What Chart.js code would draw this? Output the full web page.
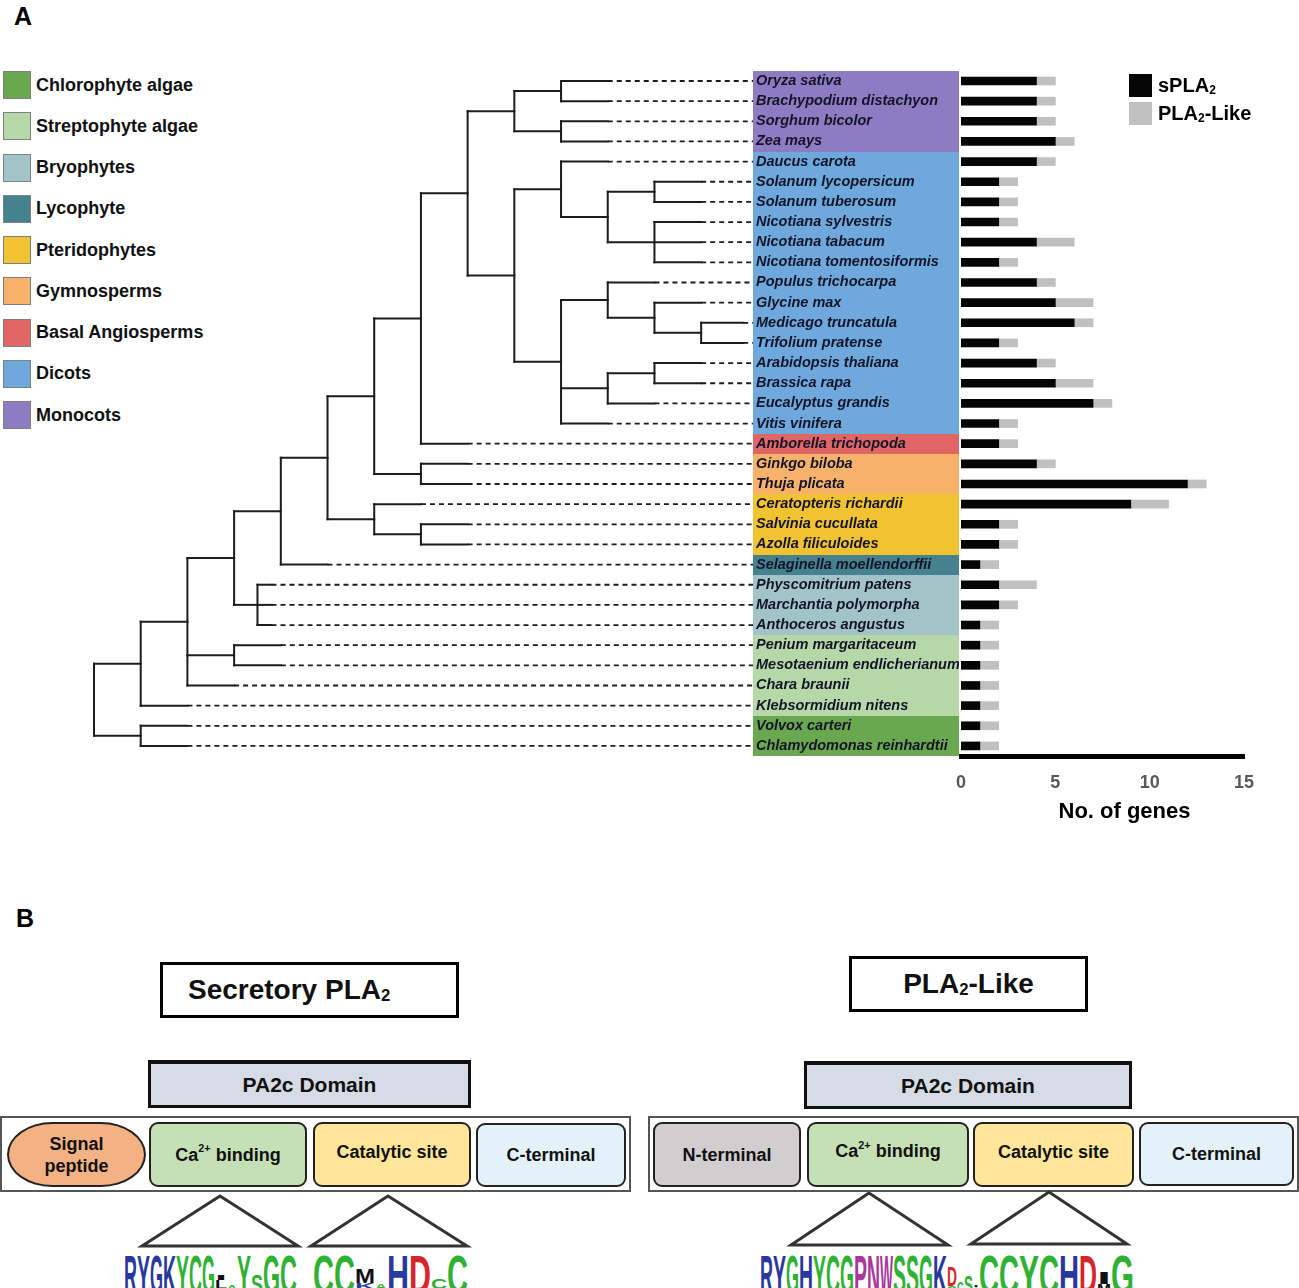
<!DOCTYPE html>
<html>
<head>
<meta charset="utf-8">
<title>sPLA2 / PLA2-Like</title>
<script src="https://cdn.jsdelivr.net/npm/chart.js@4.4.1/dist/chart.umd.min.js"></script>
<style>
  body { margin: 0; background: #fff; font-family: Arial, "Liberation Sans", sans-serif; color: #111; }
  #page { position: relative; width: 1299px; height: 1288px; overflow: hidden; }
  .abs { position: absolute; }
  .panel { font-weight: bold; font-size: 25px; color: #000; }
  #treeBox { left: 0; top: 0; width: 959px; height: 770px; }
  #barBox { left: 940px; top: 0; width: 359px; height: 826px; }
  .grp { position: absolute; left: 3px; height: 28px; display: flex; align-items: center;
         font-weight: bold; font-size: 18px; color: #111; white-space: nowrap; }
  .grp i { display: inline-block; width: 26px; height: 26px; border: 1px solid #808080; margin-right: 5px; }
  .key { position: absolute; left: 1129px; display: flex; align-items: center; font-weight: bold; font-size: 20px; color: #000; }
  .key i { display: inline-block; width: 23px; height: 23px; margin-right: 6px; }
  sub { font-size: 60%; line-height: 0; vertical-align: baseline; position: relative; top: 0.35em; }
  sup { font-size: 60%; line-height: 0; vertical-align: baseline; position: relative; top: -0.6em; }
  .tbox { border: 3px solid #000; font-weight: bold; font-size: 28px; display: flex; align-items: center; box-sizing: border-box; }
  .pa2c { background: #d6dce5; border: 3px solid #111; border-top-width: 4px; font-weight: bold; font-size: 21px;
          display: flex; align-items: center; justify-content: center; box-sizing: border-box; }
  .cont { border: 2px solid #555; box-sizing: border-box; }
  .dom { border: 2px solid #222; border-radius: 9px; display: flex; align-items: center; justify-content: center;
         text-align: center; font-weight: bold; font-size: 18px; line-height: 22px; box-sizing: border-box; color: #111; }
</style>
</head>
<body>
<div id="page">
  <div class="abs panel" style="left:14px;top:2px">A</div>
  <div id="groupLegend"></div>
  <div class="abs" id="treeBox"><canvas id="treeChart"></canvas></div>
  <div class="abs" id="barBox"><canvas id="barChart"></canvas></div>
  <div class="key" style="top:74px"><i style="background:#050505"></i>sPLA<sub>2</sub></div>
  <div class="key" style="top:102px"><i style="background:#c0c0c0"></i>PLA<sub>2</sub>-Like</div>

  <div class="abs panel" style="left:16px;top:904px">B</div>
  <div class="abs tbox" style="left:160px;top:962px;width:299px;height:56px;padding-left:25px">Secretory PLA<sub>2</sub></div>
  <div class="abs tbox" style="left:849px;top:956px;width:239px;height:56px;justify-content:center">PLA<sub>2</sub>-Like</div>
  <div class="abs pa2c" style="left:148px;top:1060px;width:323px;height:48px">PA2c Domain</div>
  <div class="abs pa2c" style="left:804px;top:1061px;width:328px;height:48px">PA2c Domain</div>

  <div class="abs cont" style="left:0;top:1116px;width:631px;height:76px"></div>
  <div class="abs dom" style="left:7px;top:1122px;width:139px;height:65px;background:#f4b183;border-radius:46px/33px">Signal<br>peptide</div>
  <div class="abs dom" style="left:149px;top:1122px;width:158px;height:65px;background:#c5e0b4">Ca<sup>2+</sup>&nbsp;binding</div>
  <div class="abs dom" style="left:313px;top:1122px;width:158px;height:65px;background:#ffe699;padding-bottom:6px">Catalytic site</div>
  <div class="abs dom" style="left:476px;top:1123px;width:150px;height:64px;background:#e3f2f8">C-terminal</div>

  <div class="abs cont" style="left:648px;top:1116px;width:651px;height:76px"></div>
  <div class="abs dom" style="left:653px;top:1122px;width:148px;height:65px;background:#d0cece">N-terminal</div>
  <div class="abs dom" style="left:807px;top:1122px;width:162px;height:65px;background:#c5e0b4;padding-bottom:7px">Ca<sup>2+</sup>&nbsp;binding</div>
  <div class="abs dom" style="left:973px;top:1122px;width:161px;height:65px;background:#ffe699;padding-bottom:6px">Catalytic site</div>
  <div class="abs dom" style="left:1139px;top:1122px;width:155px;height:64px;background:#e3f2f8">C-terminal</div>

  <svg class="abs" id="motifs" style="left:0;top:1180px" width="1299" height="108"></svg>
</div>

<script>
// species in tree order (top to bottom)
const species = [
  "Oryza sativa", "Brachypodium distachyon", "Sorghum bicolor", "Zea mays",
  "Daucus carota", "Solanum lycopersicum", "Solanum tuberosum", "Nicotiana sylvestris",
  "Nicotiana tabacum", "Nicotiana tomentosiformis", "Populus trichocarpa", "Glycine max",
  "Medicago truncatula", "Trifolium pratense", "Arabidopsis thaliana", "Brassica rapa",
  "Eucalyptus grandis", "Vitis vinifera", "Amborella trichopoda", "Ginkgo biloba",
  "Thuja plicata", "Ceratopteris richardii", "Salvinia cucullata", "Azolla filiculoides",
  "Selaginella moellendorffii", "Physcomitrium patens", "Marchantia polymorpha", "Anthoceros angustus",
  "Penium margaritaceum", "Mesotaenium endlicherianum", "Chara braunii", "Klebsormidium nitens",
  "Volvox carteri", "Chlamydomonas reinhardtii"
];

// number of genes
const sPLA2 =    [4, 4, 4, 5, 4, 2, 2, 2, 4, 2, 4, 5, 6, 2, 4, 5, 7, 2, 2, 4, 12, 9, 2, 2, 1, 2, 2, 1, 1, 1, 1, 1, 1, 1];
const pla2Like = [1, 1, 1, 1, 1, 1, 1, 1, 2, 1, 1, 2, 1, 1, 1, 2, 1, 1, 1, 1, 1, 2, 1, 1, 1, 2, 1, 1, 1, 1, 1, 1, 1, 1];
const geneTicks = [0, 5, 10, 15];

const groupNames = ["Chlorophyte algae", "Streptophyte algae", "Bryophytes", "Lycophyte", "Pteridophytes",
                    "Gymnosperms", "Basal Angiosperms", "Dicots", "Monocots"];
const groupColors = ["#6aa84f", "#b6d7a8", "#a2c4c9", "#45818e", "#f1c232", "#f6b26b", "#e06666", "#6fa8dc", "#8e7cc3"];
const speciesGroup = [8, 8, 8, 8, 7, 7, 7, 7, 7, 7, 7, 7, 7, 7, 7, 7, 7, 7, 6, 5, 5, 4, 4, 4, 3, 2, 2, 2, 1, 1, 1, 1, 0, 0];

// tree: N(node depth, children...), L(species index, depth where the solid branch ends)
const N = (d, ...c) => ({ d, c });
const L = (i, e) => ({ i, e });
const tree = N(0,
  N(1,
    N(2,
      N(3,
        N(4,
          N(5,
            N(6,
              N(7,
                N(8,
                  N(9, N(10, L(0, 11), L(1, 11)), N(10, L(2, 11), L(3, 11))),
                  N(9,
                    N(10, L(4, 11), N(11, N(12, L(5, 13), L(6, 13)), N(12, L(7, 13), L(8, 13), L(9, 13)))),
                    N(10,
                      N(11, L(10, 12), N(12, L(11, 13), N(13, L(12, 13.9), L(13, 13.9)))),
                      N(11, N(12, L(14, 13), L(15, 13)), L(16, 12)),
                      L(17, 11)))),
                L(18, 8)),
              N(7, L(19, 8), L(20, 8))),
            N(6, L(21, 7), N(7, L(22, 8), L(23, 8)))),
          L(24, 5)),
        N(3.5, L(25, 3.8), L(26, 3.8), L(27, 3.8))),
      N(3, L(28, 4), L(29, 4)),
      L(30, 3)),
    L(31, 2)),
  N(1, L(32, 2), L(33, 2)));
const labelDepth = 14.11;

// motif logos: [column width, [[letter, colour, height share], ...top to bottom]]
const motifSec1 = [[13, [["R", "b", 1]]], [13, [["Y", "b", 1]]], [13, [["G", "b", 1]]], [13, [["K", "b", 1]]],
  [13, [["Y", "g", 1]]], [13, [["C", "g", 1]]], [13, [["G", "g", 1]]],
  [12, [["I", "k", .12], ["L", "k", .22], ["V", "k", .12]]], [10, [["A", "g", .12], ["S", "g", .1]]],
  [14, [["Y", "g", 1]]], [12, [["S", "g", .5]]], [17, [["G", "g", 1]]], [17, [["C", "g", 1]]]];
const motifSec2 = [[21, [["C", "g", 1]]], [21, [["C", "g", 1]]], [20, [["M", "k", .35], ["K", "b", .15], ["S", "g", .12]]],
  [12, [["A", "g", .15], ["G", "g", .1]]], [22, [["H", "b", 1]]], [22, [["D", "r", 1]]],
  [16, [["C", "g", .25], ["A", "r", .12]]], [21, [["C", "g", 1]]]];
const motifLike = [[13, [["R", "b", 1]]], [13, [["Y", "b", 1]]], [13, [["G", "g", 1]]], [14, [["H", "b", 1]]],
  [13, [["Y", "g", 1]]], [14, [["C", "g", 1]]], [14, [["G", "g", 1]]], [13, [["P", "p", 1]]], [13, [["N", "p", 1]]],
  [13, [["W", "p", 1]]], [13, [["S", "g", 1]]], [13, [["S", "g", 1]]], [14, [["G", "g", 1]]], [14, [["K", "b", 1]]],
  [10, [["D", "r", .5], ["G", "g", .2]]], [7, [["G", "g", .3]]], [9, [["S", "g", .45]]], [6, [[":", "k", .3]]],
  [20, [["C", "g", 1]]], [20, [["C", "g", 1]]], [20, [["Y", "g", 1]]], [20, [["C", "g", 1]]], [20, [["H", "b", 1]]],
  [18, [["D", "r", 1]]], [14, [["I", "k", .3], ["M", "k", .25]]], [23, [["G", "g", 1]]]];

const FONT = 'Arial, "Liberation Sans", sans-serif';

// group legend
const legendBox = document.getElementById("groupLegend");
groupNames.forEach((g, k) => {
  const row = document.createElement("div");
  row.className = "grp";
  row.style.top = (71 + k * 41.25) + "px";
  row.innerHTML = '<i style="background:' + groupColors[k] + '"></i>' + g;
  legendBox.appendChild(row);
});

// tree segments
function place(n) {
  if (!n.c) { n.y = n.i; return; }
  n.c.forEach(place);
  n.y = (n.c[0].y + n.c[n.c.length - 1].y) / 2;
}
const solid = [], dashed = [];
function collect(n) {
  if (!n.c) return;
  solid.push([{ x: n.d, y: n.c[0].y }, { x: n.d, y: n.c[n.c.length - 1].y }]);
  n.c.forEach(ch => {
    solid.push([{ x: n.d, y: ch.y }, { x: ch.c ? ch.d : ch.e, y: ch.y }]);
    if (!ch.c) dashed.push([{ x: ch.e, y: ch.y }, { x: labelDepth, y: ch.y }]);
    collect(ch);
  });
}
place(tree);
collect(tree);

const lineBase = { showLine: true, pointRadius: 0, borderColor: "#1c1c1c", clip: false, fill: false };
const treeSets = solid.map(s => ({ ...lineBase, data: s, borderWidth: 2, borderCapStyle: "square" }))
  .concat(dashed.map(s => ({ ...lineBase, data: s, borderWidth: 1.8, borderDash: [5, 4] })));

const labelBands = {
  id: "labelBands",
  beforeDraw(chart) {
    const { ctx, chartArea, scales: { y } } = chart;
    species.forEach((s, i) => {
      const top = Math.round(y.getPixelForValue(i - 0.5));
      const bot = Math.round(y.getPixelForValue(i + 0.5));
      ctx.fillStyle = groupColors[speciesGroup[i]];
      ctx.fillRect(Math.round(chartArea.right), top, 206, bot - top);
    });
  }
};

new Chart(document.getElementById("treeChart"), {
  type: "scatter",
  data: { datasets: treeSets },
  options: {
    responsive: true,
    maintainAspectRatio: false,
    animation: false,
    events: [],
    layout: { padding: { left: 94, right: 0, top: 70.9, bottom: 14 } },
    plugins: { legend: { display: false }, tooltip: { enabled: false } },
    scales: {
      x: { type: "linear", display: false, min: 0, max: labelDepth },
      y: {
        type: "linear", position: "right", reverse: true,
        min: -0.5, max: species.length - 0.5,
        afterBuildTicks: a => { a.ticks = species.map((s, i) => ({ value: i })); },
        afterFit: a => { a.width = 206; },
        grid: { display: false, drawTicks: false },
        border: { display: false },
        ticks: {
          autoSkip: false, padding: 3, color: "#141428",
          font: { family: FONT, size: 14.5, style: "italic", weight: "bold" },
          callback: v => species[v]
        }
      }
    }
  },
  plugins: [labelBands]
});

new Chart(document.getElementById("barChart"), {
  type: "bar",
  data: {
    labels: species,
    datasets: [
      { label: "sPLA2", data: sPLA2, backgroundColor: "#050505", barThickness: 8 },
      { label: "PLA2-Like", data: pla2Like, backgroundColor: "#c0c0c0", barThickness: 8 }
    ]
  },
  options: {
    indexAxis: "y",
    responsive: true,
    maintainAspectRatio: false,
    animation: false,
    events: [],
    layout: { padding: { left: 21, right: 55, top: 70.9, bottom: 0 } },
    plugins: { legend: { display: false }, tooltip: { enabled: false } },
    scales: {
      x: {
        stacked: true, min: 0, max: 15,
        afterBuildTicks: a => { a.ticks = geneTicks.map(v => ({ value: v })); },
        afterFit: a => { a.height = 70; },
        grid: { display: false, drawTicks: false },
        border: { display: true, color: "#000", width: 5 },
        ticks: { padding: 16, color: "#595959", font: { family: FONT, size: 18, weight: "bold" } },
        title: { display: true, text: "\u2002\u2002\u2002\u2002No. of genes", color: "#000", padding: { top: 0, bottom: 1 },
                 font: { family: FONT, size: 22, weight: "bold" } }
      },
      y: { stacked: true, display: false }
    }
  }
});

// panel B: triangles and motif logos
const svg = document.getElementById("motifs");
const NS = "http://www.w3.org/2000/svg";
const OY = 1180;
[[220, 1196, 142, 298, 1246], [388, 1196, 311, 467, 1246], [869, 1193, 791, 948, 1245], [1049, 1192, 971, 1127, 1244]]
  .forEach(([ax, ay, bx1, bx2, by]) => {
    const p = document.createElementNS(NS, "polygon");
    p.setAttribute("points", ax + "," + (ay - OY) + " " + bx1 + "," + (by - OY) + " " + bx2 + "," + (by - OY));
    p.setAttribute("fill", "#fff");
    p.setAttribute("stroke", "#333");
    p.setAttribute("stroke-width", "3");
    svg.appendChild(p);
  });

const logoColors = { b: "#28389e", g: "#2fb134", r: "#d7262b", k: "#111", p: "#a8369c" };
function drawLogo(x0, cols) {
  let x = x0;
  cols.forEach(([w, stack]) => {
    let base = 1294 - OY;
    for (let j = stack.length - 1; j >= 0; j--) {
      const [ch, c, f] = stack[j];
      const h = 40 * f;
      const t = document.createElementNS(NS, "text");
      t.setAttribute("x", x);
      t.setAttribute("y", base);
      t.setAttribute("font-family", FONT);
      t.setAttribute("font-weight", "bold");
      t.setAttribute("font-size", (h / 0.716).toFixed(2));
      t.setAttribute("textLength", w);
      t.setAttribute("lengthAdjust", "spacingAndGlyphs");
      t.setAttribute("fill", logoColors[c]);
      t.textContent = ch;
      svg.appendChild(t);
      base -= h;
    }
    x += w;
  });
}
drawLogo(124, motifSec1);
drawLogo(313, motifSec2);
drawLogo(760, motifLike);
</script>
</body>
</html>
